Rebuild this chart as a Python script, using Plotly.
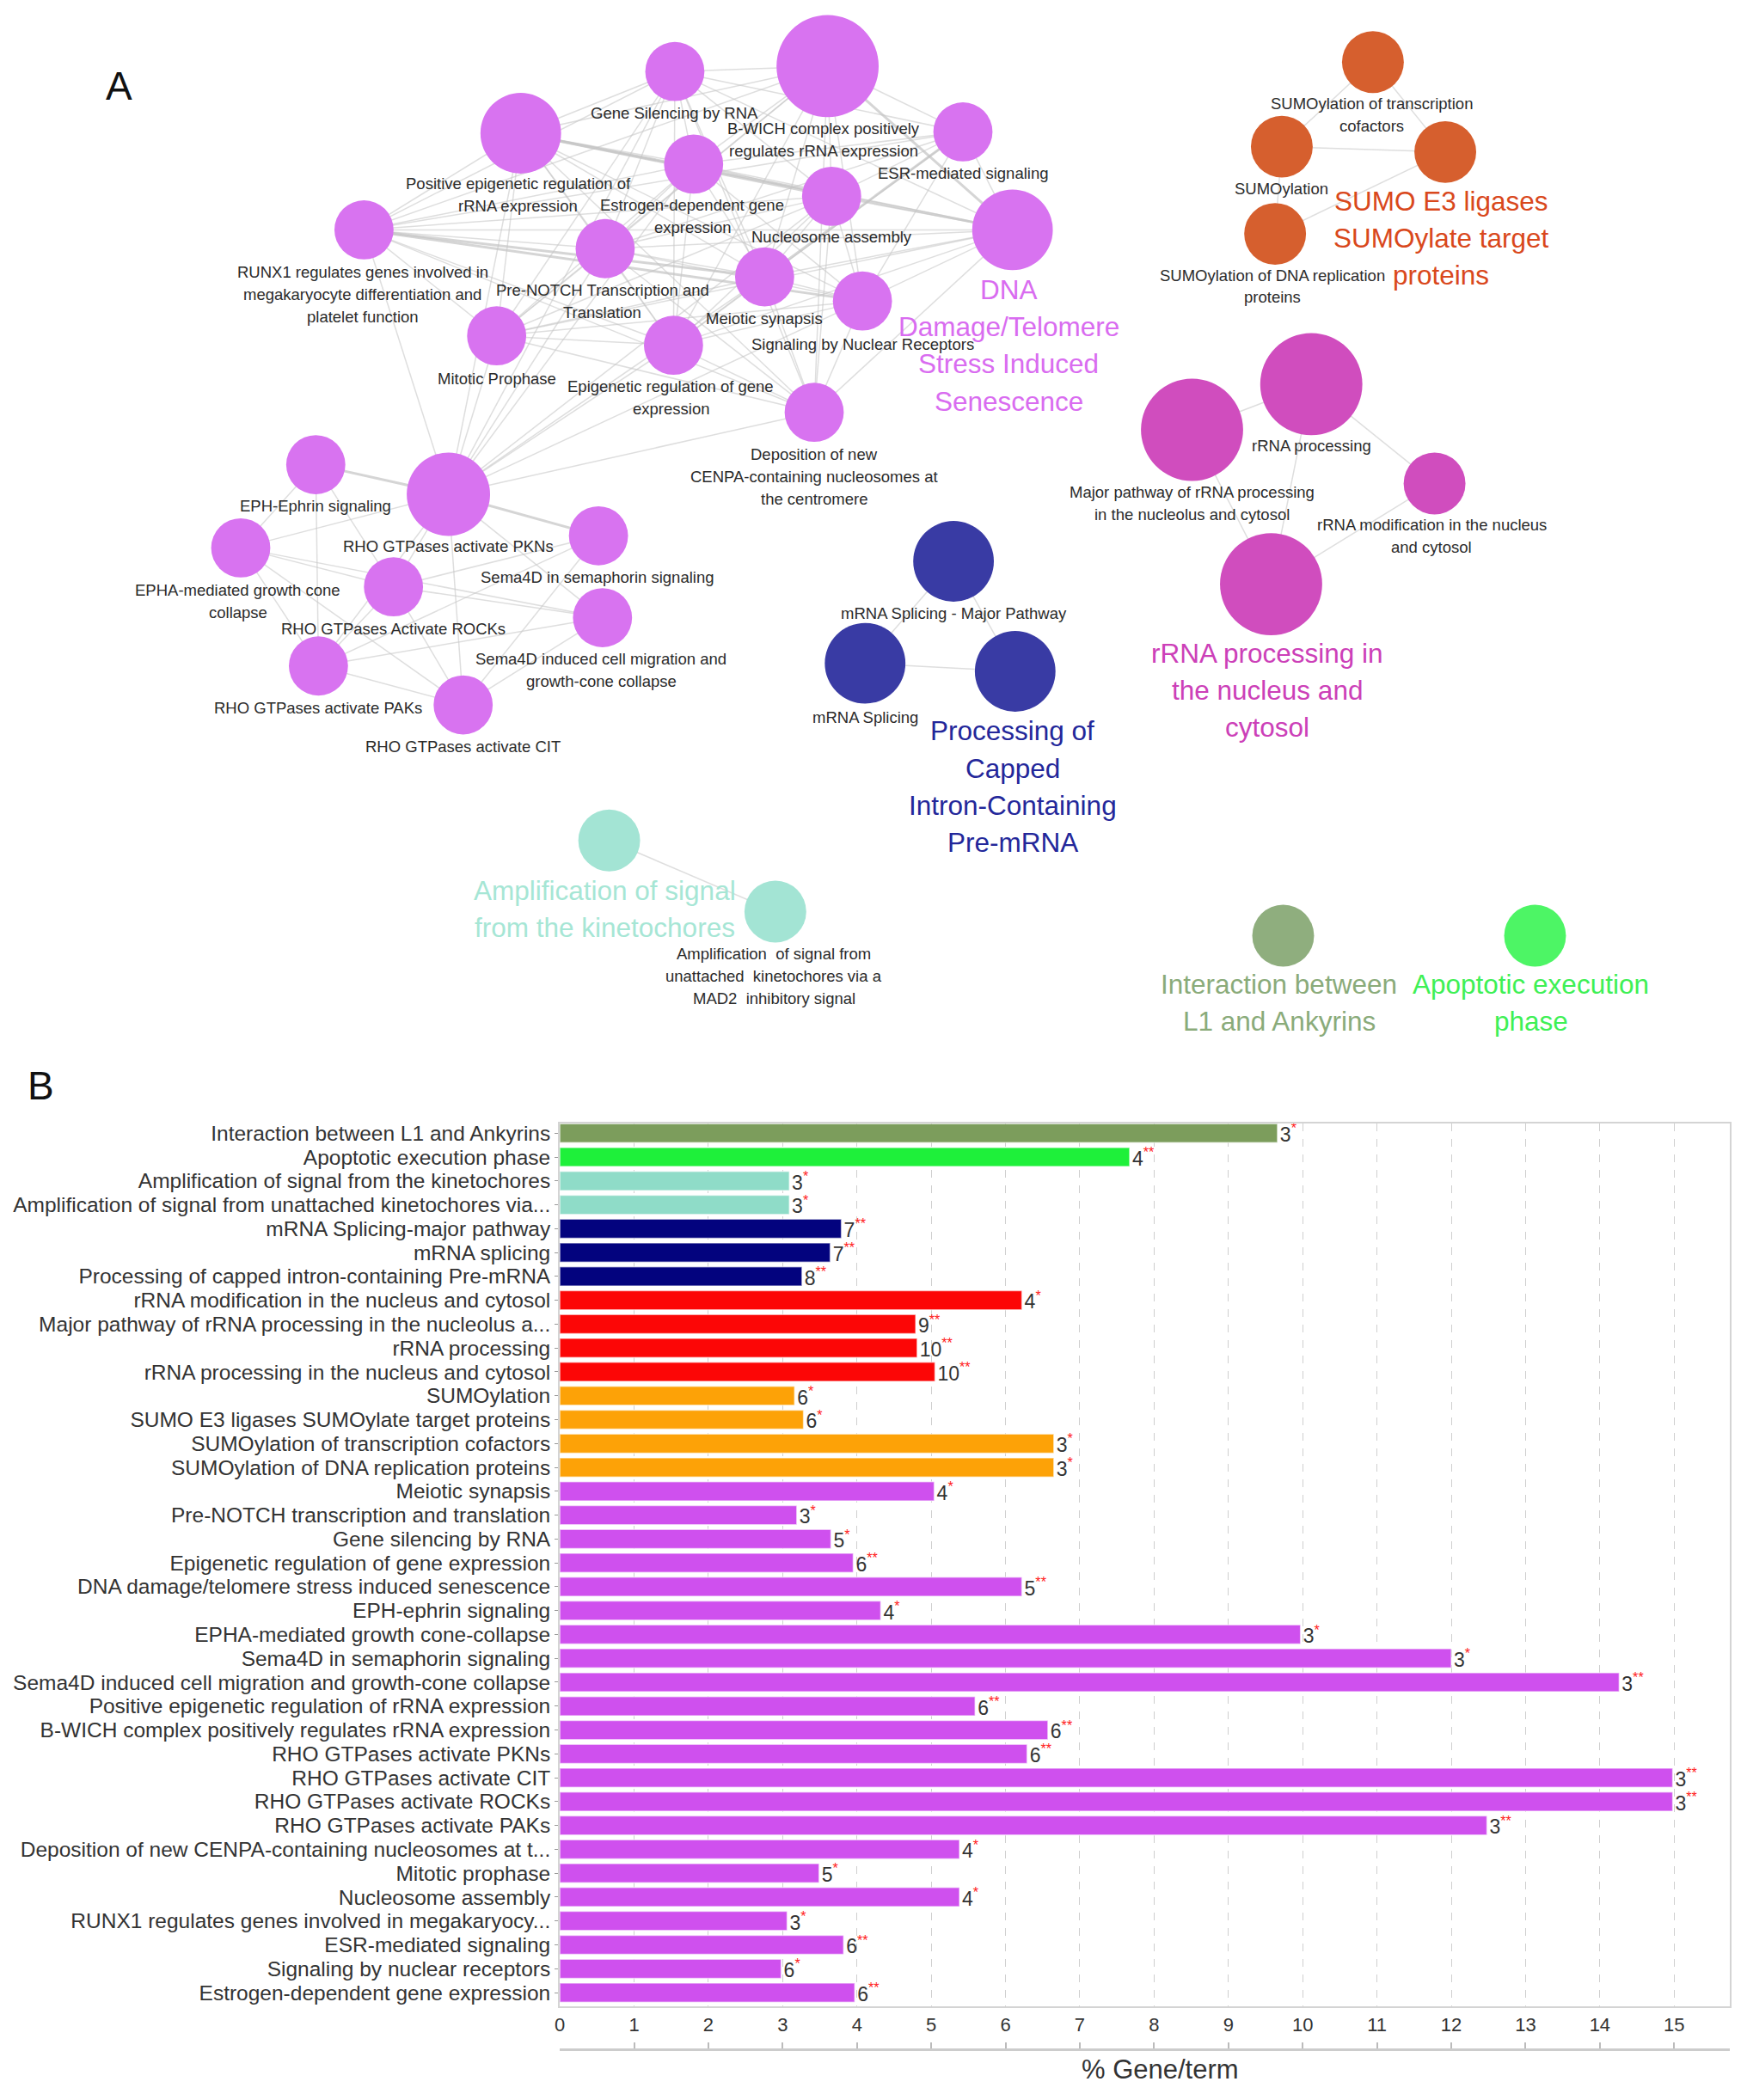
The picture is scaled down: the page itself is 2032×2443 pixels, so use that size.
import plotly.graph_objects as go

# ---------------- Panel B data ----------------
terms = [
    "Interaction between L1 and Ankyrins",
    "Apoptotic execution phase",
    "Amplification of signal from the kinetochores",
    "Amplification of signal from unattached kinetochores via...",
    "mRNA Splicing-major pathway",
    "mRNA splicing",
    "Processing of capped intron-containing Pre-mRNA",
    "rRNA modification in the nucleus and cytosol",
    "Major pathway of rRNA processing in the nucleolus a...",
    "rRNA processing",
    "rRNA processing in the nucleus and cytosol",
    "SUMOylation",
    "SUMO E3 ligases SUMOylate target proteins",
    "SUMOylation of transcription cofactors",
    "SUMOylation of DNA replication proteins",
    "Meiotic synapsis",
    "Pre-NOTCH transcription and translation",
    "Gene silencing by RNA",
    "Epigenetic regulation of gene expression",
    "DNA damage/telomere stress induced senescence",
    "EPH-ephrin signaling",
    "EPHA-mediated growth cone-collapse",
    "Sema4D in semaphorin signaling",
    "Sema4D induced cell migration and growth-cone collapse",
    "Positive epigenetic regulation of rRNA expression",
    "B-WICH complex positively regulates rRNA expression",
    "RHO GTPases activate PKNs",
    "RHO GTPases activate CIT",
    "RHO GTPases activate ROCKs",
    "RHO GTPases activate PAKs",
    "Deposition of new CENPA-containing nucleosomes at t...",
    "Mitotic prophase",
    "Nucleosome assembly",
    "RUNX1 regulates genes involved in megakaryocy...",
    "ESR-mediated signaling",
    "Signaling by nuclear receptors",
    "Estrogen-dependent gene expression",
]
pct_gene_term = [9.66, 7.67, 3.09, 3.09, 3.79, 3.64, 3.26, 6.22, 4.79, 4.81, 5.05,
                 3.16, 3.28, 6.65, 6.65, 5.04, 3.19, 3.65, 3.95, 6.22, 4.32, 9.97,
                 12.0, 14.26, 5.59, 6.57, 6.29, 14.98, 14.98, 12.48, 5.38, 3.49,
                 5.38, 3.06, 3.82, 2.98, 3.97]
gene_counts = [3, 4, 3, 3, 7, 7, 8, 4, 9, 10, 10, 6, 6, 3, 3, 4, 3, 5, 6, 5, 4, 3,
               3, 3, 6, 6, 6, 3, 3, 3, 4, 5, 4, 3, 6, 6, 6]
significance = ["*", "**", "*", "*", "**", "**", "**", "*", "**", "**", "**", "*", "*",
                "*", "*", "*", "*", "*", "**", "**", "*", "*", "*", "**", "**", "**",
                "**", "**", "**", "**", "*", "*", "*", "*", "**", "*", "**"]
groups = ["L1", "APO", "KIN", "KIN", "MRNA", "MRNA", "MRNA", "RRNA", "RRNA", "RRNA",
          "RRNA", "SUMO", "SUMO", "SUMO", "SUMO"] + ["DNA"] * 22
x_ticks = list(range(0, 16))

bar_colors = {"L1": "#7c9d5c", "APO": "#1ef03a", "KIN": "#8fdcc8", "MRNA": "#03037e",
              "RRNA": "#fc0606", "SUMO": "#fda207", "DNA": "#cf50ee"}

# ---------------- Panel A data (network) ----------------
node_keys = ["GS", "BW", "ESR", "PE", "ED", "NA", "DNA", "RX", "PN", "MS", "SNR", "MP",
             "ER", "DEP", "EPH", "PKN", "S4S", "EPHA", "ROCK", "S4I", "PAK", "CIT",
             "TC", "SU", "E3", "DR", "RP", "MPR", "RM", "RN", "SMP", "SP", "PC",
             "AK", "AU", "L1", "AP"]
node_x = [503, 617, 718, 388, 517, 620, 755, 271, 451, 570, 643, 370, 502, 607,
          235, 334, 446, 179, 293, 449, 237, 345,
          1024, 956, 1078, 951, 978, 889, 1070, 948, 711, 645, 757,
          454, 578, 957, 1145]
node_y = [52, 48, 97, 98, 121, 145, 170, 170, 184, 205, 223, 249, 256, 306,
          345, 367, 398, 407, 436, 459, 495, 524,
          45, 108, 112, 173, 285, 319, 359, 434, 417, 493, 499,
          625, 678, 696, 696]
node_d = [44, 76, 44, 60, 44, 44, 60, 44, 44, 44, 44, 44, 44, 44,
          44, 62, 44, 44, 44, 44, 44, 44,
          46, 46, 46, 46, 76, 76, 46, 76, 60, 60, 60,
          46, 46, 46, 46]
node_cluster = ["DNA"] * 22 + ["SUMO"] * 4 + ["RRNA"] * 4 + ["MRNA"] * 3 + ["KIN"] * 2 + ["L1", "APO"]

cluster_node_colors = {"DNA": "#d873f0", "SUMO": "#d65f2e", "RRNA": "#d04dbe",
                       "MRNA": "#393ba4", "KIN": "#a3e4d4", "L1": "#8fae7e", "APO": "#4df565"}

node_labels = {
    "GS": ("Gene Silencing by RNA", 503, 83),
    "BW": ("B-WICH complex positively<br>regulates rRNA expression", 614, 103),
    "ESR": ("ESR-mediated signaling", 718, 128),
    "PE": ("Positive epigenetic regulation of<br>rRNA expression", 386, 144),
    "ED": ("Estrogen-dependent gene<br>expression", 516, 160),
    "NA": ("Nucleosome assembly", 620, 175),
    "RX": ("RUNX1 regulates genes involved in<br>megakaryocyte differentiation and<br>platelet function", 270, 218),
    "PN": ("Pre-NOTCH Transcription and<br>Translation", 449, 223),
    "MS": ("Meiotic synapsis", 570, 236),
    "SNR": ("Signaling by Nuclear Receptors", 643, 255),
    "MP": ("Mitotic Prophase", 370, 281),
    "ER": ("Epigenetic regulation of gene<br>expression", 500, 295),
    "DEP": ("Deposition of new<br>CENPA-containing nucleosomes at<br>the centromere", 607, 354),
    "EPH": ("EPH-Ephrin signaling", 235, 376),
    "PKN": ("RHO GTPases activate PKNs", 334, 406),
    "S4S": ("Sema4D in semaphorin signaling", 445, 429),
    "EPHA": ("EPHA-mediated growth cone<br>collapse", 177, 447),
    "ROCK": ("RHO GTPases Activate ROCKs", 293, 467),
    "S4I": ("Sema4D induced cell migration and<br>growth-cone collapse", 448, 498),
    "PAK": ("RHO GTPases activate PAKs", 237, 526),
    "CIT": ("RHO GTPases activate CIT", 345, 555),
    "TC": ("SUMOylation of transcription<br>cofactors", 1023, 84),
    "SU": ("SUMOylation", 956, 139),
    "DR": ("SUMOylation of DNA replication<br>proteins", 949, 212),
    "RP": ("rRNA processing", 978, 331),
    "MPR": ("Major pathway of rRNA processing<br>in the nucleolus and cytosol", 889, 374),
    "RM": ("rRNA modification in the nucleus<br>and cytosol", 1068, 398),
    "SMP": ("mRNA Splicing - Major Pathway", 711, 456),
    "SP": ("mRNA Splicing", 645, 533),
    "AU": ("Amplification  of signal from<br>unattached  kinetochores via a<br>MAD2  inhibitory signal", 577, 726),
}
cluster_titles = [
    ("DNA<br>Damage/Telomere<br>Stress Induced<br>Senescence", 752, 256, "#d96cf0"),
    ("SUMO E3 ligases<br>SUMOylate target<br>proteins", 1075, 176, "#d9481c"),
    ("rRNA processing in<br>the nucleus and<br>cytosol", 945, 513, "#cc40b8"),
    ("Processing of<br>Capped<br>Intron-Containing<br>Pre-mRNA", 755, 585, "#23279a"),
    ("Amplification of signal<br>from the kinetochores", 451, 676, "#a6e6d5"),
    ("Interaction between<br>L1 and Ankyrins", 954, 746, "#8aab7a"),
    ("Apoptotic execution<br>phase", 1142, 746, "#3ef055"),
]

edges_thin = [
    "GS-BW", "GS-PE", "GS-ED", "GS-NA", "GS-DNA", "GS-RX", "GS-PN", "GS-MS", "GS-MP", "GS-ER", "GS-DEP", "GS-ESR",
    "BW-ESR", "BW-PE", "BW-ED", "BW-NA", "BW-RX", "BW-PN", "BW-MS", "BW-SNR", "BW-MP", "BW-ER", "BW-DEP",
    "ESR-ED", "ESR-NA", "ESR-DNA", "ESR-SNR", "ESR-ER", "ESR-PN", "ESR-RX",
    "PE-ED", "PE-RX", "PE-PN", "PE-MS", "PE-MP", "PE-ER", "PE-DEP", "PE-SNR",
    "ED-NA", "ED-DNA", "ED-RX", "ED-PN", "ED-MS", "ED-SNR", "ED-MP", "ED-ER",
    "NA-DNA", "NA-RX", "NA-PN", "NA-MS", "NA-SNR", "NA-MP", "NA-ER", "NA-DEP",
    "DNA-RX", "DNA-PN", "DNA-MS", "DNA-SNR", "DNA-MP", "DNA-ER", "DNA-DEP",
    "RX-PN", "RX-MP", "RX-ER", "RX-DEP",
    "PN-MS", "PN-SNR", "PN-MP", "PN-ER", "PN-DEP",
    "MS-SNR", "MS-MP", "MS-ER", "MS-DEP",
    "SNR-MP", "SNR-ER", "SNR-DEP", "MP-ER", "MP-DEP", "ER-DEP",
    "PKN-RX", "PKN-MP", "PKN-PN", "PKN-ER", "PKN-DEP", "PKN-GS", "PKN-PE", "PKN-ED",
    "PKN-MS", "PKN-NA", "PKN-SNR",
    "EPH-EPHA", "EPH-ROCK", "EPH-PAK", "EPHA-PKN", "EPHA-ROCK", "EPHA-S4I", "EPHA-PAK",
    "EPHA-CIT", "PKN-ROCK", "PKN-CIT", "PKN-S4I", "PKN-PAK", "ROCK-S4S", "ROCK-S4I",
    "ROCK-PAK", "ROCK-CIT", "S4S-PAK", "S4S-CIT", "S4I-PAK", "S4I-CIT", "PAK-CIT",
    "TC-SU", "TC-E3", "SU-E3", "E3-DR", "SU-DR",
    "RP-MPR", "RP-RM", "RP-RN", "MPR-RN", "RM-RN",
    "SMP-SP", "SMP-PC", "SP-PC", "AK-AU",
]
edges_thick = ["PE-DNA", "PE-NA", "BW-DNA", "RX-MS", "RX-SNR", "ESR-MS", "EPH-PKN", "PKN-S4S"]

# ---------------- Figure ----------------
W, H = 2032, 2443
REF_W, REF_H = 1300, 1563
S = W / REF_W
OFF_X, OFF_Y = 13, 9  # rendering offset compensation (px)
FONT = "Liberation Sans, Arial, Helvetica, sans-serif"


def px(x):
    return (x - OFF_X) / W


def py(y):
    return 1 - (y - OFF_Y) / H


fig = go.Figure()

pos = {k: (x, y) for k, x, y in zip(node_keys, node_x, node_y)}


def edge_xy(edge_list):
    xs, ys = [], []
    for e in edge_list:
        a, b = e.split("-")
        xs += [pos[a][0], pos[b][0], None]
        ys += [pos[a][1], pos[b][1], None]
    return xs, ys


ex, ey = edge_xy(edges_thin)
fig.add_trace(go.Scatter(x=ex, y=ey, mode="lines", xaxis="x3", yaxis="y3",
                         line=dict(color="rgba(200,200,200,0.6)", width=1.5),
                         hoverinfo="skip", showlegend=False))
ex, ey = edge_xy(edges_thick)
fig.add_trace(go.Scatter(x=ex, y=ey, mode="lines", xaxis="x3", yaxis="y3",
                         line=dict(color="rgba(195,195,195,0.7)", width=3),
                         hoverinfo="skip", showlegend=False))

fig.add_trace(go.Scatter(
    x=node_x, y=node_y, mode="markers", xaxis="x3", yaxis="y3",
    marker=dict(size=[d * S for d in node_d], opacity=1,
                color=[cluster_node_colors[c] for c in node_cluster],
                line=dict(width=0)),
    hoverinfo="skip", showlegend=False))

annotations = []


def add_multiline(text, cx, cy, size, color, spacing):
    lines = text.split("<br>")
    n = len(lines)
    for i, ln in enumerate(lines):
        annotations.append(dict(
            x=cx, y=cy + (i - (n - 1) / 2) * spacing, xref="x3", yref="y3",
            text=ln, showarrow=False, xanchor="center", yanchor="middle",
            font=dict(family=FONT, size=size, color=color)))


for k, (txt, lx, ly) in node_labels.items():
    add_multiline(txt, lx, ly, 18.5, "#2b2b2b", 16.6)
for txt, lx, ly, col in cluster_titles:
    add_multiline(txt, lx, ly, 31.5, col, 27.7)

annotations.append(dict(x=88, y=63, xref="x3", yref="y3", text="A", showarrow=False,
                        font=dict(family=FONT, size=46, color="#111")))
annotations.append(dict(x=30, y=808, xref="x3", yref="y3", text="B", showarrow=False,
                        font=dict(family=FONT, size=46, color="#111")))

# ---------------- Bars ----------------
bar_text = [f"{n}<span style='color:#ff2020'><sup>{s}</sup></span>"
            for n, s in zip(gene_counts, significance)]
fig.add_trace(go.Bar(
    x=pct_gene_term, y=terms, orientation="h",
    marker=dict(color=[bar_colors[g] for g in groups],
                line=dict(color="rgba(255,255,255,0.55)", width=1.5)),
    text=bar_text, textposition="outside", cliponaxis=False, constraintext="none",
    textfont=dict(family=FONT, size=23, color="#333"),
    hoverinfo="skip", showlegend=False))
fig.add_trace(go.Scatter(x=[0], y=[terms[0]], xaxis="x2", yaxis="y", mode="markers",
                         marker=dict(opacity=0), hoverinfo="skip", showlegend=False))

xdom = [px(652), px(2017)]
ydom = [py(2335), py(1307)]

annotations.append(dict(x=px(1352), y=py(2428), xref="paper", yref="paper",
                        text="% Gene/term", showarrow=False,
                        font=dict(family=FONT, size=31, color="#333")))

fig.update_layout(
    width=W, height=H, autosize=False,
    margin=dict(l=0, r=0, t=0, b=0),
    paper_bgcolor="white", plot_bgcolor="rgba(0,0,0,0)",
    bargap=0.2,
    xaxis=dict(domain=xdom, range=[0, 15.75], tickmode="array", tickvals=x_ticks,
               showgrid=True, gridcolor="#cfcfcf", griddash="dash", gridwidth=1,
               showline=True, linecolor="#d4d4d4", linewidth=2, mirror=True,
               ticks="", zeroline=False,
               tickfont=dict(family=FONT, size=22, color="#333")),
    xaxis2=dict(overlaying="x", anchor="free", position=py(2385),
                range=[0, 15.75], tickmode="array", tickvals=x_ticks, matches="x",
                showticklabels=False, showgrid=False, zeroline=False,
                showline=True, linecolor="#cccccc", linewidth=3,
                ticks="inside", ticklen=7, tickcolor="#bbbbbb", tickwidth=1.5),
    yaxis=dict(domain=ydom, categoryorder="array", categoryarray=terms,
               tickmode="array", tickvals=terms, ticktext=terms,
               range=[36.58, -0.39], showgrid=False, zeroline=False,
               showline=True, linecolor="#d4d4d4", linewidth=2, mirror=True,
               ticks="outside", ticklen=4, tickcolor="#999",
               tickfont=dict(family=FONT, size=24.5, color="#333")),
    xaxis3=dict(domain=[0, 1], range=[OFF_X / S, REF_W + OFF_X / S], visible=False, anchor="y3"),
    yaxis3=dict(domain=[0, 1], range=[REF_H + OFF_Y / S, OFF_Y / S], visible=False, anchor="x3"),
    annotations=annotations,
)

fig.write_html("out.html")
